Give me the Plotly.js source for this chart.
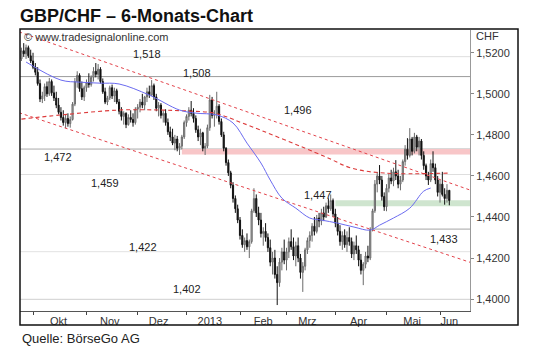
<!DOCTYPE html>
<html>
<head>
<meta charset="utf-8">
<script src="https://cdn.plot.ly/plotly-3.0.1.min.js"></script>
<style>
html,body{margin:0;padding:0;background:#fff;}
#chart{width:540px;height:354px;}
</style>
</head>
<body>
<div id="chart"></div>
<script>
// ---------- data ----------
var firstDay = '2012-09-24';   // first trading day shown (Mon)
var barCount = 185;            // daily bars, Mon-Fri

var openP = [1.5170,1.5210,1.5195,1.5225,1.5185,1.5160,1.5130,1.5105,1.5050,1.4975,
1.4990,1.5035,1.5000,1.5060,1.5005,1.4980,1.4945,1.4910,1.4885,1.4860,
1.4880,1.4855,1.4875,1.4950,1.5060,1.5090,1.5025,1.4985,1.5030,1.5055,
1.5045,1.5080,1.5110,1.5095,1.5120,1.5060,1.5010,1.4960,1.4980,1.5030,
1.4990,1.5015,1.4960,1.4915,1.4890,1.4905,1.4850,1.4885,1.4875,1.4860,
1.4925,1.4935,1.4960,1.4945,1.4985,1.5010,1.4995,1.5040,1.4985,1.4930,
1.4945,1.4895,1.4905,1.4860,1.4815,1.4790,1.4760,1.4780,1.4735,1.4745,
1.4790,1.4860,1.4890,1.4920,1.4905,1.4880,1.4825,1.4790,1.4810,1.4735,
1.4745,1.4835,1.4970,1.4895,1.4900,1.4940,1.4865,1.4800,1.4735,1.4665,
1.4615,1.4555,1.4490,1.4440,1.4385,1.4310,1.4265,1.4285,1.4255,1.4280,
1.4430,1.4490,1.4420,1.4385,1.4320,1.4330,1.4300,1.4250,1.4180,1.4200,
1.4120,1.4080,1.4180,1.4230,1.4190,1.4230,1.4280,1.4255,1.4210,1.4260,
1.4200,1.4130,1.4160,1.4240,1.4285,1.4310,1.4355,1.4330,1.4395,1.4380,
1.4420,1.4400,1.4455,1.4440,1.4480,1.4415,1.4370,1.4330,1.4280,1.4310,
1.4265,1.4300,1.4280,1.4220,1.4260,1.4240,1.4190,1.4140,1.4170,1.4210,
1.4200,1.4340,1.4430,1.4560,1.4600,1.4580,1.4500,1.4450,1.4540,1.4590,
1.4575,1.4620,1.4600,1.4560,1.4580,1.4670,1.4730,1.4700,1.4780,1.4720,
1.4790,1.4740,1.4770,1.4700,1.4650,1.4600,1.4580,1.4660,1.4640,1.4580,
1.4520,1.4560,1.4510,1.4490,1.4530];

var highP = [1.5225,1.5247,1.5240,1.5235,1.5215,1.5200,1.5150,1.5130,1.5070,1.5010,
1.5050,1.5060,1.5077,1.5070,1.5040,1.5010,1.4980,1.4935,1.4920,1.4900,
1.4905,1.4890,1.4960,1.5077,1.5110,1.5100,1.5060,1.5040,1.5070,1.5100,
1.5090,1.5130,1.5150,1.5145,1.5130,1.5075,1.5030,1.4990,1.5040,1.5045,
1.5030,1.5025,1.4975,1.4935,1.4915,1.4910,1.4900,1.4920,1.4905,1.4935,
1.4950,1.4975,1.5000,1.4990,1.5030,1.5040,1.5067,1.5050,1.5000,1.4960,
1.4955,1.4920,1.4925,1.4880,1.4840,1.4830,1.4800,1.4795,1.4760,1.4800,
1.4870,1.4900,1.4935,1.4965,1.4930,1.4895,1.4845,1.4830,1.4815,1.4760,
1.4850,1.4995,1.4985,1.4920,1.5010,1.4950,1.4880,1.4815,1.4740,1.4680,
1.4625,1.4570,1.4505,1.4460,1.4400,1.4340,1.4300,1.4320,1.4290,1.4440,
1.4540,1.4510,1.4450,1.4420,1.4350,1.4370,1.4320,1.4290,1.4230,1.4240,
1.4160,1.4200,1.4250,1.4290,1.4250,1.4300,1.4340,1.4300,1.4280,1.4300,
1.4220,1.4180,1.4250,1.4300,1.4330,1.4370,1.4400,1.4410,1.4420,1.4440,
1.4450,1.4470,1.4490,1.4510,1.4490,1.4440,1.4400,1.4360,1.4330,1.4340,
1.4330,1.4350,1.4300,1.4280,1.4310,1.4260,1.4220,1.4180,1.4230,1.4260,
1.4350,1.4440,1.4580,1.4620,1.4653,1.4600,1.4520,1.4560,1.4610,1.4630,
1.4640,1.4677,1.4630,1.4600,1.4680,1.4750,1.4784,1.4833,1.4790,1.4810,
1.4800,1.4790,1.4780,1.4720,1.4660,1.4620,1.4680,1.4720,1.4660,1.4600,
1.4580,1.4620,1.4540,1.4560,1.4530];

var lowP = [1.5160,1.5180,1.5170,1.5175,1.5150,1.5120,1.5090,1.5040,1.4960,1.4955,
1.4965,1.4985,1.4990,1.4990,1.4965,1.4930,1.4900,1.4870,1.4845,1.4833,
1.4840,1.4835,1.4870,1.4940,1.5030,1.5010,1.4970,1.4965,1.5010,1.5030,
1.5035,1.5060,1.5080,1.5070,1.5050,1.5000,1.4950,1.4945,1.4970,1.4975,
1.4960,1.4950,1.4900,1.4870,1.4850,1.4833,1.4845,1.4860,1.4840,1.4850,
1.4880,1.4910,1.4930,1.4920,1.4960,1.4980,1.4990,1.4970,1.4915,1.4890,
1.4880,1.4860,1.4845,1.4800,1.4770,1.4750,1.4725,1.4720,1.4702,1.4730,
1.4780,1.4840,1.4870,1.4890,1.4860,1.4810,1.4770,1.4750,1.4720,1.4702,
1.4735,1.4820,1.4880,1.4840,1.4880,1.4850,1.4790,1.4720,1.4650,1.4600,
1.4540,1.4470,1.4420,1.4370,1.4290,1.4250,1.4230,1.4240,1.4200,1.4270,
1.4420,1.4400,1.4360,1.4300,1.4260,1.4280,1.4230,1.4160,1.4120,1.4100,
1.3971,1.4060,1.4140,1.4170,1.4140,1.4200,1.4240,1.4190,1.4160,1.4180,
1.4100,1.4035,1.4140,1.4220,1.4250,1.4280,1.4310,1.4320,1.4350,1.4360,
1.4380,1.4395,1.4420,1.4430,1.4400,1.4350,1.4310,1.4260,1.4240,1.4250,
1.4230,1.4260,1.4200,1.4190,1.4220,1.4160,1.4120,1.4068,1.4150,1.4180,
1.4190,1.4330,1.4420,1.4520,1.4560,1.4480,1.4430,1.4428,1.4520,1.4560,
1.4550,1.4580,1.4540,1.4530,1.4570,1.4650,1.4680,1.4690,1.4700,1.4710,
1.4720,1.4700,1.4680,1.4630,1.4580,1.4556,1.4570,1.4620,1.4560,1.4500,
1.4470,1.4500,1.4460,1.4470,1.4457];

var closeP = [1.5210,1.5195,1.5225,1.5185,1.5160,1.5130,1.5105,1.5050,1.4975,1.4990,
1.5035,1.5000,1.5060,1.5005,1.4980,1.4945,1.4910,1.4885,1.4860,1.4880,
1.4855,1.4875,1.4950,1.5060,1.5090,1.5025,1.4985,1.5030,1.5055,1.5045,
1.5080,1.5110,1.5095,1.5120,1.5060,1.5010,1.4960,1.4980,1.5030,1.4990,
1.5015,1.4960,1.4915,1.4890,1.4905,1.4850,1.4885,1.4875,1.4860,1.4925,
1.4935,1.4960,1.4945,1.4985,1.5010,1.4995,1.5040,1.4985,1.4930,1.4945,
1.4895,1.4905,1.4860,1.4815,1.4790,1.4760,1.4780,1.4735,1.4745,1.4790,
1.4860,1.4890,1.4920,1.4905,1.4880,1.4825,1.4790,1.4810,1.4735,1.4745,
1.4835,1.4970,1.4895,1.4900,1.4940,1.4865,1.4800,1.4735,1.4665,1.4615,
1.4555,1.4490,1.4440,1.4385,1.4310,1.4265,1.4285,1.4255,1.4280,1.4430,
1.4490,1.4420,1.4385,1.4320,1.4330,1.4300,1.4250,1.4180,1.4200,1.4120,
1.4080,1.4180,1.4230,1.4190,1.4230,1.4280,1.4255,1.4210,1.4260,1.4200,
1.4130,1.4160,1.4240,1.4285,1.4310,1.4355,1.4330,1.4395,1.4380,1.4420,
1.4400,1.4455,1.4440,1.4480,1.4415,1.4370,1.4330,1.4280,1.4310,1.4265,
1.4300,1.4280,1.4220,1.4260,1.4240,1.4190,1.4140,1.4170,1.4210,1.4200,
1.4340,1.4430,1.4560,1.4600,1.4580,1.4500,1.4450,1.4540,1.4590,1.4575,
1.4620,1.4600,1.4560,1.4580,1.4670,1.4730,1.4700,1.4780,1.4720,1.4790,
1.4740,1.4770,1.4700,1.4650,1.4600,1.4580,1.4660,1.4640,1.4580,1.4520,
1.4560,1.4510,1.4490,1.4530,1.4480];

// blue moving average (read at points)
var maBlueDates = ['2012-09-26','2012-10-17','2012-10-29','2012-11-09','2012-11-21','2012-12-10','2012-12-27',
 '2013-01-07','2013-01-18','2013-01-29','2013-02-06','2013-02-14','2013-02-20','2013-02-27','2013-03-07',
 '2013-03-15','2013-03-22','2013-04-02','2013-04-11','2013-04-22','2013-04-26','2013-05-06','2013-05-15',
 '2013-05-23','2013-05-28'];
var maBlue = [1.5155,1.5067,1.5057,1.5052,1.5048,1.4994,1.4921,
 1.4906,1.4897,1.4858,1.4760,1.4663,1.4580,1.4492,1.4443,
 1.4395,1.4385,1.4370,1.4351,1.4336,1.4360,1.4395,1.4443,
 1.4526,1.4541];

// red dashed long moving average
var maRedDates = ['2012-09-24','2012-10-17','2012-11-21','2012-12-17','2013-01-02','2013-01-17','2013-02-04',
 '2013-03-25','2013-04-10','2013-04-30','2013-06-07'];
var maRed = [1.4877,1.4897,1.4921,1.4921,1.4916,1.4906,1.4858,1.4697,1.4638,1.4614,1.4614];

// trend channel (red dotted)
var channelDates = ['2012-09-21','2013-06-20'];
var channelUpper = [1.5302,1.4531];
var channelLower = [1.4908,1.4179];

// horizontal levels
var levelValues = [1.5181,1.5084,1.4731,1.4607,1.4231,1.3999];
var levelColors = ['#dedede','#9c9c9c','#a8a8a8','#dedede','#e2e2e2','#cfcfcf'];
var level1433 = 1.4341, level1433Start = '2013-04-23';
var pinkBand = [1.4705,1.4731], pinkStart = '2012-12-28';
var greenBand = [1.4452,1.4482], greenStart = '2013-04-01';
var bandEnd = '2013-06-21';

var levelLabels = ['1,518','1,508','1,496','1,472','1,459','1,422','1,402','1,447','1,433'];
var levelLabelX = [147,197,298,58,105,143,187,318,444];
var levelLabelY = [54,73,110,157,183,247,289,195,239];

// axis ticks
var monthStarts = ['2012-10-01','2012-11-01','2012-12-03','2013-01-01','2013-02-01','2013-03-01','2013-04-01','2013-05-01','2013-06-03'];
var monthLabelPos = ['2012-10-16','2012-11-15','2012-12-14','2013-01-15','2013-02-15','2013-03-14','2013-04-15','2013-05-16','2013-06-07'];
var monthLabels = ['Okt','Nov','Dez','2013','Feb','Mrz','Apr','Mai','Jun'];
var yTicks = [1.40,1.42,1.44,1.46,1.48,1.50,1.52];

// ---------- build trading dates (Mon-Fri) ----------
function tradingDays(start, n){
  var out=[], d=new Date(start+'T00:00:00Z');
  while(out.length<n){
    var wd=d.getUTCDay();
    if(wd!==0 && wd!==6) out.push(d.toISOString().slice(0,10));
    d.setUTCDate(d.getUTCDate()+1);
  }
  return out;
}
var dates = tradingDays(firstDay, barCount);

// pixel helpers for annotations (plot area 20..470 x, 30..311 y)
var PL=20, PR=470, PT=30, PB=311;
function px(x){return (x-PL)/(PR-PL);}
function py(y){return (PB-y)/(PB-PT);}

var traces = [
 {type:'candlestick', x:dates, open:openP, high:highP, low:lowP, close:closeP,
  increasing:{line:{color:'#6a6a6a',width:1}, fillcolor:'#b8b8b8'},
  decreasing:{line:{color:'#111111',width:1}, fillcolor:'#111111'},
  whiskerwidth:0, hoverinfo:'skip', showlegend:false},
 {type:'scatter', mode:'lines', x:channelDates, y:channelUpper, line:{color:'#e3424a',width:1,dash:'dot'}, hoverinfo:'skip', showlegend:false},
 {type:'scatter', mode:'lines', x:channelDates, y:channelLower, line:{color:'#e3424a',width:1,dash:'dot'}, hoverinfo:'skip', showlegend:false},
 {type:'scatter', mode:'lines', x:maRedDates, y:maRed, line:{color:'#dc3a3a',width:1.1,dash:'4px,3px',shape:'spline'}, hoverinfo:'skip', showlegend:false},
 {type:'scatter', mode:'lines', x:maBlueDates, y:maBlue, line:{color:'#6b6bf0',width:1,shape:'spline'}, hoverinfo:'skip', showlegend:false}
];

var shapes = [];
shapes.push({type:'rect', xref:'x', yref:'y', x0:pinkStart, x1:bandEnd, y0:pinkBand[0], y1:pinkBand[1], fillcolor:'#f8c6c8', line:{width:0}, layer:'below'});
shapes.push({type:'rect', xref:'x', yref:'y', x0:greenStart, x1:bandEnd, y0:greenBand[0], y1:greenBand[1], fillcolor:'#cfe5cf', line:{width:0}, layer:'below'});
levelValues.forEach(function(v,k){
  shapes.push({type:'line', xref:'paper', yref:'y', x0:0, x1:1, y0:v, y1:v, line:{color:levelColors[k],width:1}, layer:'below'});
});
shapes.push({type:'line', xref:'x', yref:'y', x0:level1433Start, x1:bandEnd, y0:level1433, y1:level1433, line:{color:'#a4a4a4',width:1}, layer:'below'});
// outer frame
shapes.push({type:'rect', xref:'paper', yref:'paper', x0:0, x1:px(518), y0:py(325), y1:py(29), line:{color:'#111',width:1.5}, fillcolor:'rgba(0,0,0,0)', layer:'above'});

var annotations = [];
levelLabels.forEach(function(t,k){
  annotations.push({xref:'paper', yref:'paper', x:px(levelLabelX[k]), y:py(levelLabelY[k]), text:t, showarrow:false,
    xanchor:'center', yanchor:'middle', font:{family:'Liberation Sans, Arial, sans-serif', size:11, color:'#222'}});
});
annotations.push({xref:'paper', yref:'paper', x:px(22), y:py(37), text:'© www.tradesignalonline.com', showarrow:false,
  xanchor:'left', yanchor:'middle', font:{family:'Liberation Sans, Arial, sans-serif', size:11, color:'#333'}});
annotations.push({xref:'paper', yref:'paper', x:px(474), y:py(36), text:'CHF', showarrow:false,
  xanchor:'left', yanchor:'middle', font:{family:'Liberation Sans, Arial, sans-serif', size:11, color:'#333'}});
annotations.push({xref:'paper', yref:'paper', x:px(20), y:py(338), text:'Quelle: BörseGo AG', showarrow:false,
  xanchor:'left', yanchor:'middle', font:{family:'Liberation Sans, Arial, sans-serif', size:13, color:'#222'}});

var layout = {
  width:540, height:354,
  margin:{l:PL, r:540-PR, t:PT, b:354-PB, pad:0},
  paper_bgcolor:'#ffffff', plot_bgcolor:'#ffffff',
  separators:',.',
  title:{text:'<b>GBP/CHF – 6-Monats-Chart</b>', x:20/540, xanchor:'left', xref:'container',
         y:1-16/354, yanchor:'middle', yref:'container',
         font:{family:'Liberation Sans, Arial, sans-serif', size:18, color:'#111'}},
  xaxis:{type:'date', range:['2012-09-21 09:36','2013-06-19 21:36'],
         rangebreaks:[{bounds:['sat','mon']}],
         rangeslider:{visible:false},
         tickmode:'array', tickvals:monthLabelPos, ticktext:monthLabels, ticks:'',
         minor:{tickmode:'array', tickvals:monthStarts, ticks:'outside', ticklen:3, tickcolor:'#444', showgrid:false},
         showgrid:false, zeroline:false, showline:true, linecolor:'#555', linewidth:1,
         tickfont:{family:'Liberation Sans, Arial, sans-serif', size:11, color:'#333'}, fixedrange:true},
  yaxis:{side:'right', range:[1.3942,1.5311], tickmode:'array', tickvals:yTicks, tickformat:'.4f',
         ticks:'outside', ticklen:3, tickcolor:'#888', showgrid:false, zeroline:false,
         showline:true, linecolor:'#999', linewidth:1,
         tickfont:{family:'Liberation Sans, Arial, sans-serif', size:11, color:'#333'}, fixedrange:true},
  shapes:shapes, annotations:annotations, showlegend:false, hovermode:false
};

Plotly.newPlot('chart', traces, layout, {displayModeBar:false, staticPlot:true});
</script>
</body>
</html>
